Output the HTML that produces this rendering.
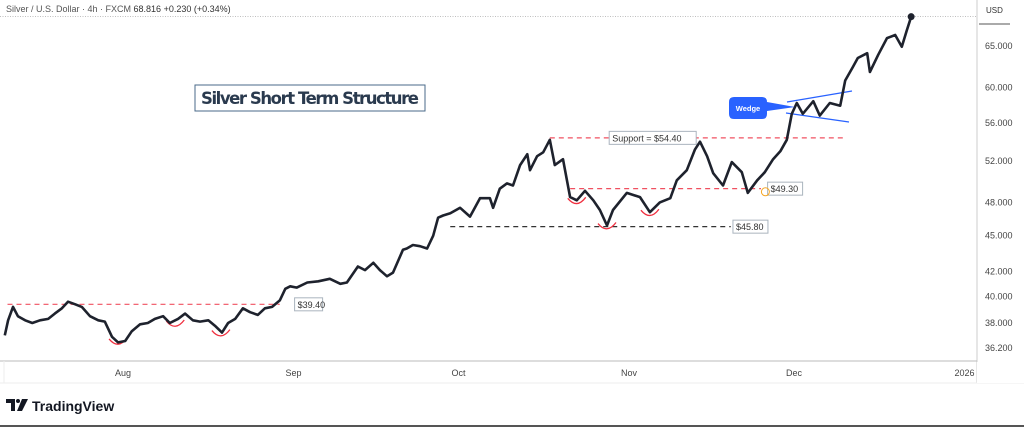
<!DOCTYPE html>
<html><head><meta charset="utf-8"><style>
html,body{margin:0;padding:0;background:#fff;width:1024px;height:427px;overflow:hidden;font-family:"Liberation Sans",sans-serif}
</style></head><body>
<svg id="chart" width="1024" height="427" viewBox="0 0 1024 427" xmlns="http://www.w3.org/2000/svg" style="position:absolute;left:0;top:0">
<rect x="0" y="0" width="1024" height="427" fill="#fff"/>
<text x="6" y="12" font-size="9" fill="#555">Silver / U.S. Dollar · 4h · FXCM  <tspan fill="#333">68.816</tspan>  <tspan fill="#333">+0.230 (+0.34%)</tspan></text>
<line x1="0" y1="16.5" x2="977" y2="16.5" stroke="#aaa" stroke-width="0.8" stroke-dasharray="1,1.5"/>
<line x1="977" y1="0" x2="977" y2="383" stroke="#ccc"/>
<line x1="0" y1="361" x2="977" y2="361" stroke="#bbb"/>
<line x1="0" y1="383" x2="1024" y2="383" stroke="#eee"/>
<line x1="4" y1="361" x2="4" y2="383" stroke="#eee"/>
<text x="986" y="13" font-size="8" fill="#333">USD</text>
<line x1="979" y1="24" x2="1010" y2="24" stroke="#555" stroke-width="1"/>
<g id="yaxis"></g>
<g id="xaxis"></g>
<g id="annot"></g>
<path id="line" fill="none" stroke="#1e222d" stroke-width="2.6" stroke-linejoin="round"/>
<circle id="lastdot" r="3.5" fill="#1e222d"/>
<rect x="195" y="85" width="230" height="26" fill="#fff" stroke="#4a6a88" stroke-width="1"/>
<text x="310" y="104" font-size="16.5" font-weight="bold" fill="#2a3a4e" text-anchor="middle" font-family="DejaVu Sans,sans-serif" textLength="218">Silver Short Term Structure</text>
<g>
<path d="M734 97 H762 Q767 97 767 102 L795 107 L767 111 V114 Q767 119 762 119 H734 Q729 119 729 114 V102 Q729 97 734 97 Z" fill="#2962ff"/>
<text x="748" y="111" font-size="7.5" font-weight="bold" fill="#fff" text-anchor="middle">Wedge</text>
</g>
<g>
<path d="M6 399 H15 V411 H11 V403 H6 Z" fill="#131722"/>
<circle cx="18" cy="401" r="2" fill="#131722"/>
<path d="M22 399 H28 L22 411 H17 Z" fill="#131722"/>
<text x="32" y="411" font-size="14" font-weight="bold" fill="#131722">TradingView</text>
</g>
<line x1="0" y1="426" x2="1024" y2="426" stroke="#555" stroke-width="2"/>
</svg>
<script>
const days=[9.5,10.1,11.0,11.9,13.2,14.5,15.9,17.4,18.6,19.9,21.0,22.3,23.5,25.0,26.5,27.7,29.0,30.1,31.4,32.6,34.1,35.5,36.8,38.3,39.5,41.0,42.3,43.7,45.0,46.5,47.7,49.0,50.1,51.4,52.8,54.1,55.5,56.8,58.1,59.5,60.5,61.4,62.6,64.5,66.5,68.6,70.5,71.7,73.7,75.0,76.5,77.7,79.0,80.1,81.9,82.6,83.7,85.0,86.3,87.4,88.3,89.2,90.5,92.3,94.1,95.9,97.7,98.3,99.5,100.8,101.9,103.2,104.5,105.0,106.3,107.4,108.6,109.5,111.0,112.3,113.5,115.0,116.5,117.7,119.0,120.1,122.6,125.0,126.8,128.6,130.5,131.7,133.5,135.0,135.9,137.2,138.3,140.1,141.7,143.5,144.6,146.3,147.7,149.2,150.5,151.7,152.6,153.5,154.6,156.5,157.7,159.5,161.4,162.3,163.7,164.6,166.3,166.8,168.3,169.9,171.4,172.6,173.5,174.3];
const prices=[37.1,38.2,39.2,38.5,38.2,38.0,38.2,38.3,38.7,39.1,39.6,39.4,39.2,38.5,38.2,38.1,37.0,36.6,36.7,37.4,37.9,38.0,38.3,38.5,38.0,38.3,38.7,38.2,38.1,38.2,37.8,37.3,38.0,38.3,39.1,38.8,38.6,39.1,39.2,39.7,40.6,40.8,40.7,41.1,41.2,41.4,41.0,41.1,42.4,42.1,42.7,42.1,41.6,41.9,43.8,43.9,44.2,44.1,43.9,45.0,46.6,46.8,47.0,47.5,46.7,48.4,48.4,47.5,49.3,49.8,49.6,51.6,52.7,51.1,52.5,52.9,54.2,51.6,52.2,48.5,48.2,49.1,48.2,47.3,45.9,47.3,48.9,48.5,47.1,48.0,48.4,50.1,51.1,53.2,54.0,52.5,50.8,49.6,51.9,50.9,48.9,50.1,50.9,52.2,53.0,54.2,57.0,58.2,57.0,58.4,56.8,58.2,57.9,60.8,62.4,63.5,64.1,61.8,63.9,66.0,66.4,64.9,67.0,68.8];
const yTicks=[65,60,56,52,48,45,42,40,38,36.2];
const monthLabels=["Aug","Sep","Oct","Nov","Dec","2026"];
const monthDays=[31,62,92,123,153,184];
const NS="http://www.w3.org/2000/svg";
function X(d){return 123+(d-31)*5.5;}
function Y(p){return 46-516*Math.log(p/65);}
function mk(tag,attrs,parent){const e=document.createElementNS(NS,tag);for(const k in attrs)e.setAttribute(k,attrs[k]);parent.appendChild(e);return e;}
const ya=document.getElementById('yaxis');
yTicks.forEach(v=>{const t=mk('text',{x:985,y:Y(v)+3,'font-size':9,fill:'#444'},ya);t.textContent=v.toFixed(3);

});
const xa=document.getElementById('xaxis');
monthLabels.forEach((m,i)=>{const t=mk('text',{x:X(monthDays[i]),y:376,'font-size':9,fill:'#444','text-anchor':'middle'},xa);t.textContent=m;

});
mk('rect',{x:977,y:362,width:47,height:21,fill:'#fff'},xa);
let d='';days.forEach((x,i)=>{d+=(i?'L':'M')+X(x).toFixed(1)+' '+Y(prices[i]).toFixed(1);});
document.getElementById('line').setAttribute('d',d);
const L=days.length-1;const dot=document.getElementById('lastdot');dot.setAttribute('cx',X(days[L]));dot.setAttribute('cy',Y(prices[L]));
const an=document.getElementById('annot');
function hline(p,d1,d2,col,name){const l=mk('line',{x1:X(d1),x2:X(d2),y1:Y(p),y2:Y(p),stroke:col,'stroke-width':1.2,'stroke-dasharray':'5,4'},an);

}
function label(p,d1,txt,w,name){const g=mk('g',{},an);


mk('rect',{x:X(d1),y:Y(p)-6.5,width:w,height:13,fill:'#fff',stroke:'#aab4be'},g);const t=mk('text',{x:X(d1)+3,y:Y(p)+3.5,'font-size':9,fill:'#333'},g);t.textContent=txt;}
hline(39.40,10,59.5,'#f05060','resistance-39-40-line');label(39.40,62.2,'$39.40',28,'label-39-40');
hline(54.40,108.6,162,'#f05060','support-54-40-line');label(54.40,119.4,'Support = $54.40',87,'label-54-40');
hline(49.30,112.3,147,'#f05060','support-49-30-line');label(49.30,148.2,'$49.30',35,'label-49-30');
hline(45.80,90.5,141.5,'#333','support-45-80-line');label(45.80,141.9,'$45.80',35,'label-45-80');
[[30.1,36.7],[40.5,38.0],[48.8,37.3],[113.5,48.2],[119,45.9],[126.8,47.1]].forEach(a=>{const cx=X(a[0]),cy=Y(a[1]);const p=mk('path',{d:`M${cx-9} ${cy-2} Q${cx} ${cy+9} ${cx+9} ${cy-3}`,fill:'none',stroke:'#f03040','stroke-width':1.3},an);

});
const oc=mk('circle',{cx:X(147.8),cy:Y(49.0),r:4,fill:'none',stroke:'#f5a623','stroke-width':1},an);


const w1=mk('line',{x1:787,y1:102,x2:852,y2:91,stroke:'#2962ff','stroke-width':1.2},an);


const w2=mk('line',{x1:786,y1:113,x2:849,y2:122,stroke:'#2962ff','stroke-width':1.2},an);


</script>
</body></html>
